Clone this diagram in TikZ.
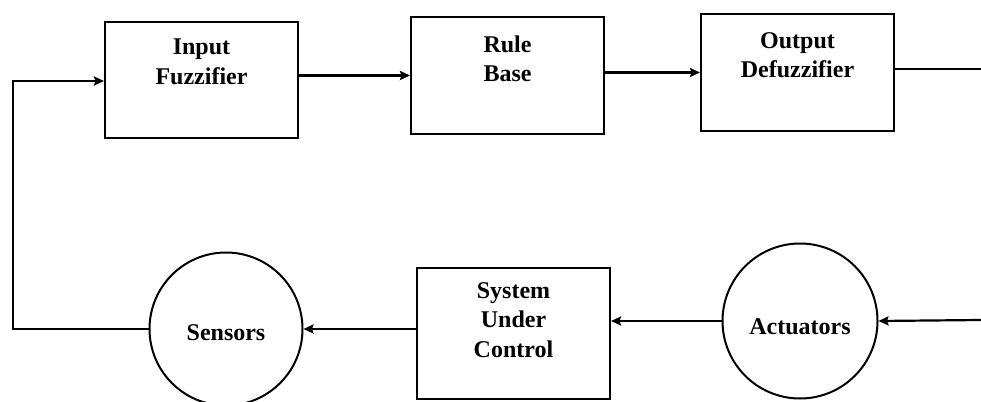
\documentclass[tikz,border=0pt]{standalone}
\usepackage{fontspec}
\setmainfont{Liberation Serif}
\usetikzlibrary{arrows.meta,positioning,calc}
\begin{document}
\begin{tikzpicture}[x=1pt,y=-1pt,
  line width=2.2pt,
  blk/.style={draw,line width=2pt,rectangle,inner sep=0pt},
  circ/.style={draw,line width=2pt,circle,inner sep=0pt},
  lbl/.style={font=\fontsize{24}{29.5}\selectfont\bfseries,align=center,inner sep=0pt},
  arr/.style={-{Stealth[length=10pt,width=9pt,inset=1.5pt]}}]
\useasboundingbox (0,0) rectangle (981,401);
% boxes
\node[blk,minimum width=193pt,minimum height=116pt] (IF) at (201.5,80) {};
\node[blk,minimum width=193pt,minimum height=117pt] (RB) at (507.5,75.5) {};
\node[blk,minimum width=193pt,minimum height=117pt] (OD) at (797.5,72.5) {};
\node[blk,minimum width=193pt,minimum height=131pt] (SUC) at (513.5,333) {};
\node[circ,minimum size=153pt] (Sen) at (226,329) {};
\node[circ,minimum size=155pt] (Act) at (800,321) {};
% labels
\node[lbl] (tIF) at (201.5,62) {Input\\Fuzzifier};
\node[lbl] (tRB) at (507.5,59) {Rule\\Base};
\node[lbl] (tOD) at (797.5,55) {Output\\Defuzzifier};
\node[lbl] (tSUC) at (513.5,320) {System\\Under\\Control};
\node[lbl] (tSen) at (226,333) {Sensors};
\node[lbl] (tAct) at (800,327) {Actuators};
% free ends
\coordinate (out) at (981,69);
\coordinate (in) at (981,320);
\coordinate (fb) at (13,81);
% connectors
\draw[arr] (IF.east |- RB.west) -- (RB.west);
\draw[arr] (RB.east |- OD.west) -- (OD.west);
\draw (OD.east |- out) -- (out);
\draw[arr] (in) -- (Act.east);
\draw[arr] (Act.west) -- (Act.west -| SUC.east);
\draw[arr] (SUC.west |- Sen.east) -- (Sen.east);
\draw[arr] (Sen.west) -| (fb) -- (IF.west |- fb);
\end{tikzpicture}
\end{document}
